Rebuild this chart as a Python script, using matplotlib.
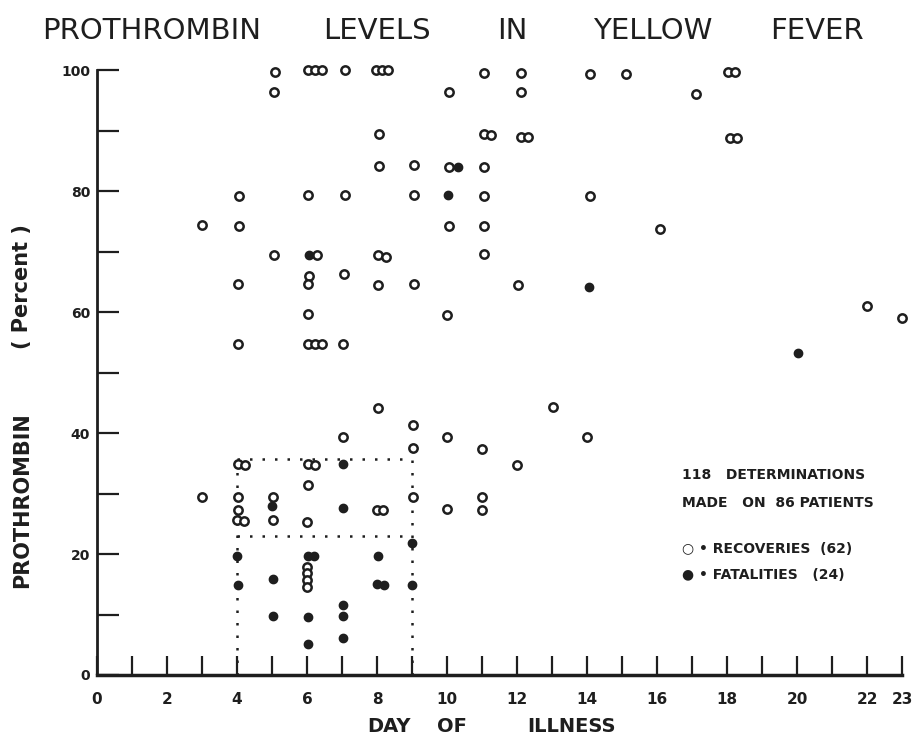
import matplotlib
matplotlib.use("Agg")
import matplotlib.pyplot as plt

plt.rcParams['font.family'] = ['DejaVu Sans']

# Recoveries (open circles): day of illness, prothrombin percent
rec_day = [3.0, 3.0, 4.05, 4.05, 4.02, 4.03, 4.04, 4.22, 4.03, 4.04, 4.0, 4.2,
           5.08, 5.06, 5.07, 5.02, 5.02,
           6.02, 6.23, 6.44, 6.04, 6.28, 6.06, 6.04, 6.02, 6.04, 6.24, 6.44,
           6.03, 6.23, 6.02, 6.0, 6.0, 6.0, 6.0, 6.0,
           7.09, 7.08, 7.05, 7.04, 7.03,
           7.96, 8.13, 8.32, 8.07, 8.05, 8.04, 8.25, 8.04, 8.03, 8.0, 8.16,
           9.07, 9.05, 9.05, 9.02, 9.02, 9.02,
           10.06, 10.06, 10.05, 10.0, 10.0, 10.0,
           11.05, 11.05, 11.26, 11.05, 11.05, 11.05, 11.05, 11.0, 11.0, 11.0,
           12.11, 12.11, 12.1, 12.32, 12.04, 12.0,
           13.02, 14.09, 14.08, 14.0, 15.1, 16.09, 17.11,
           18.04, 18.23, 18.09, 18.29, 22.0, 23.0]
rec_pct = [74.3, 29.5, 79.2, 74.2, 64.6, 54.7, 34.9, 34.7, 29.5, 27.3, 25.6, 25.5,
           99.6, 96.4, 69.4, 29.5, 25.6,
           100, 100, 100, 79.3, 69.4, 66.0, 64.6, 59.6, 54.7, 54.7, 54.7,
           34.9, 34.7, 31.4, 25.3, 17.9, 16.8, 15.7, 14.6,
           100, 79.4, 66.2, 54.7, 39.4,
           100, 100, 100, 89.5, 84.1, 69.4, 69.1, 64.4, 44.2, 27.3, 27.3,
           84.3, 79.3, 64.6, 41.4, 37.5, 29.5,
           96.4, 84.0, 74.2, 59.5, 39.3, 27.5,
           99.5, 89.4, 89.3, 84.0, 79.2, 74.2, 69.6, 37.3, 29.5, 27.3,
           99.5, 96.3, 89.0, 89.0, 64.4, 34.7,
           44.3, 99.3, 79.2, 39.3, 99.3, 73.8, 96.1,
           99.6, 99.6, 88.8, 88.8, 61.0, 59.0]

# Fatalities (filled circles)
fat_day = [4.0, 4.04, 5.0, 5.02, 5.04, 6.05, 6.03, 6.19, 6.04, 6.04,
           7.03, 7.03, 7.03, 7.03, 7.03, 8.02, 8.0, 8.2, 9.0, 9.0,
           10.02, 10.3, 14.05, 20.02]
fat_pct = [19.6, 14.9, 27.9, 15.8, 9.7, 69.5, 19.6, 19.6, 9.6, 5.1,
           34.9, 27.6, 11.5, 9.7, 6.1, 19.6, 15.0, 14.9, 21.9, 14.9,
           79.3, 84.0, 64.2, 53.3]

# dotted box marking days 4-9
box_days = [4, 9]
box_top = 35.7
box_mid = 23

x_ticks = list(range(0, 24))
x_labels = [str(d) if (d % 2 == 0 or d == 23) else "" for d in x_ticks]
y_ticks = list(range(0, 101, 10))
y_labels = [str(v) if v % 20 == 0 else "" for v in y_ticks]

ink = "#1e1e1e"

fig = plt.figure(figsize=(9.13, 7.42), dpi=100)
ax = fig.add_axes([97 / 913, 67 / 742, 805 / 913, 605 / 742])

ax.plot(rec_day, rec_pct, linestyle="none", marker="o", markersize=6,
        markerfacecolor="white", markeredgecolor=ink, markeredgewidth=1.8,
        clip_on=False, zorder=3)
ax.plot(fat_day, fat_pct, linestyle="none", marker="o", markersize=6,
        markerfacecolor=ink, markeredgecolor=ink, clip_on=False, zorder=4)

# dotted box
dot = dict(color=ink, linestyle=(0, (1, 4)), linewidth=1.8, zorder=2)
ax.plot([box_days[0], box_days[0]], [0, box_top], **dot)
ax.plot([box_days[1], box_days[1]], [0, box_top], **dot)
ax.plot(box_days, [box_top, box_top], **dot)
ax.plot(box_days, [box_mid, box_mid], **dot)

ax.set_xlim(0, 23)
ax.set_ylim(0, 100)
ax.spines["top"].set_visible(False)
ax.spines["right"].set_visible(False)
ax.spines["bottom"].set_linewidth(2.5)
ax.spines["left"].set_linewidth(2)
ax.spines["bottom"].set_color(ink)
ax.spines["left"].set_color(ink)

ax.set_xticks(x_ticks)
ax.set_xticklabels(x_labels, fontweight="bold", fontsize=11)
ax.set_yticks(y_ticks)
ax.set_yticklabels(y_labels, fontweight="bold", fontsize=10)
ax.tick_params(axis="x", direction="in", length=14, width=1.6, pad=12, colors=ink)
ax.tick_params(axis="y", direction="in", length=16, width=1.6, pad=5, colors=ink)

# title words spread across the top
title_words = ["PROTHROMBIN", "LEVELS", "IN", "YELLOW", "FEVER"]
title_x = [42, 323, 497, 593, 770]
for w, xp in zip(title_words, title_x):
    fig.text(xp / 913, 1 - 31 / 742, w, fontsize=21, ha="left", va="center", color=ink)

# y label in two pieces
fig.text(22 / 913, 1 - 500 / 742, "PROTHROMBIN", rotation=90,
         fontsize=15, fontweight="bold", ha="center", va="center", color=ink)
fig.text(22 / 913, 1 - 287 / 742, "( Percent )", rotation=90,
         fontsize=15, fontweight="bold", ha="center", va="center", color=ink)

# x label words
xlab_words = ["DAY", "OF", "ILLNESS"]
xlab_x = [389, 452, 571]
for w, xp in zip(xlab_words, xlab_x):
    fig.text(xp / 913, 15 / 742, w, fontsize=14, fontweight="bold",
             ha="center", va="center", color=ink)

notes = ["118   DETERMINATIONS", "MADE   ON  86 PATIENTS",
         "\u25cb \u2022 RECOVERIES  (62)", "\u25cf \u2022 FATALITIES   (24)"]
note_y = [475, 503, 549, 575]
for t, yp in zip(notes, note_y):
    fig.text(682 / 913, 1 - yp / 742, t, fontsize=10, fontweight="bold",
             ha="left", va="center", color=ink)

plt.savefig("out.png", dpi=100, facecolor="white")
